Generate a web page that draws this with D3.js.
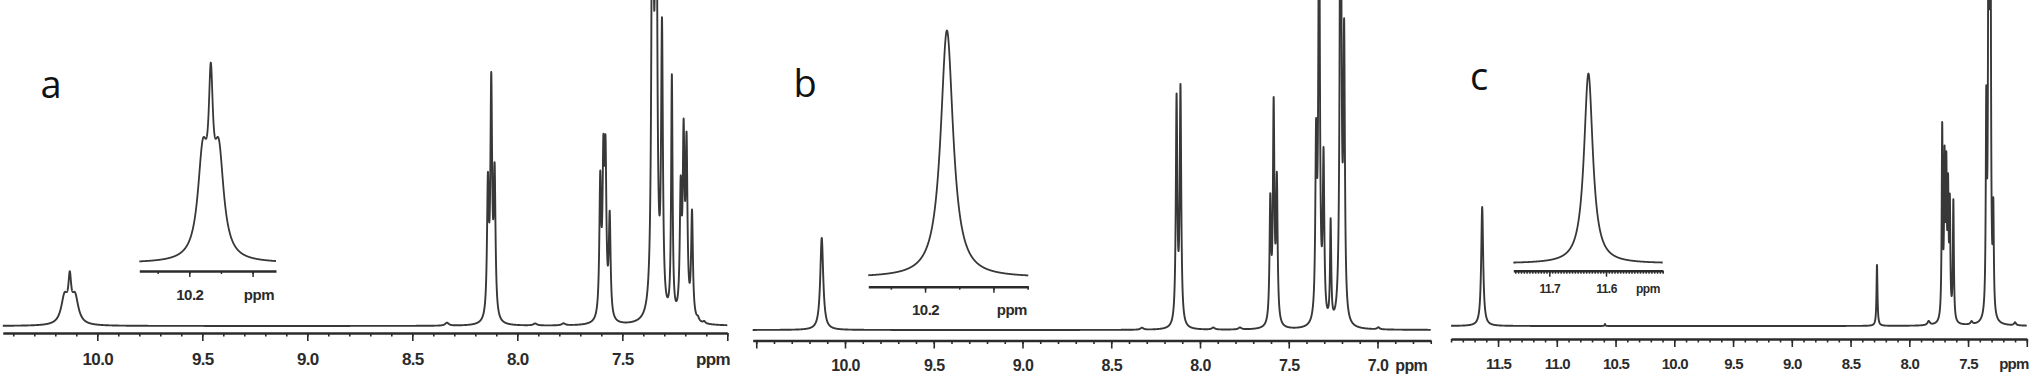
<!DOCTYPE html>
<html><head><meta charset="utf-8">
<script src="https://cdn.jsdelivr.net/npm/d3@7"></script>
<style>body{margin:0;background:#fff}</style>
</head><body>
<svg id="chart" width="2032" height="381"></svg>
<script>
// ---------------- DATA (ppm, intensity a.u., half-width ppm) ----------------
// Panel a
const aDomain = [10.45, 7.0];
const aMajorTicks = [10.0, 9.5, 9.0, 8.5, 8.0, 7.5, 7.0];
const aTickLabels = ["10.0", "9.5", "9.0", "8.5", "8.0", "7.5", ""];
const aPeaks = [
  [10.156, 27, 0.019], [10.131, 35, 0.008], [10.106, 27, 0.019],
  [8.335, 3, 0.010],
  [8.140, 130, 0.005], [8.124, 230, 0.005], [8.108, 140, 0.005],
  [7.915, 2, 0.010], [7.780, 2, 0.010],
  [7.605, 133, 0.005], [7.590, 145, 0.005], [7.580, 150, 0.005], [7.560, 100, 0.005],
  [7.356, 600, 0.005], [7.339, 600, 0.005], [7.311, 280, 0.005],
  [7.264, 240, 0.004],
  [7.222, 120, 0.005], [7.208, 170, 0.005], [7.194, 165, 0.005], [7.168, 105, 0.005],
  [7.140, 3, 0.006], [7.110, 2, 0.006]
];
const aInsetDomain = [10.279, 10.063];
const aInsetMajor = [10.2, 10.1];
const aInsetLabels = ["10.2", ""];
const aInsetPeaks = [[10.1786, 100, 0.0095], [10.166, 128, 0.004], [10.1534, 100, 0.0095]];

// Panel b
const bDomain = [10.52, 6.70];
const bMajorTicks = [10.5, 10.0, 9.5, 9.0, 8.5, 8.0, 7.5, 7.0];
const bTickLabels = ["", "10.0", "9.5", "9.0", "8.5", "8.0", "7.5", "7.0"];
const bPeaks = [
  [10.131, 92, 0.010],
  [8.327, 2, 0.010],
  [8.132, 225, 0.005], [8.110, 235, 0.005],
  [7.925, 2, 0.010], [7.775, 2, 0.010],
  [7.604, 120, 0.005], [7.585, 215, 0.005], [7.567, 140, 0.005],
  [7.346, 172, 0.005], [7.329, 450, 0.005], [7.304, 160, 0.005],
  [7.264, 100, 0.004],
  [7.208, 600, 0.005], [7.188, 275, 0.005],
  [6.995, 2, 0.008]
];
const bInsetDomain = [10.283, 10.049];
const bInsetMajor = [10.2, 10.1];
const bInsetLabels = ["10.2", ""];
const bInsetPeaks = [[10.168, 247, 0.011]];

// Panel c
const cDomain = [11.9, 7.0];
const cMajorTicks = [11.5, 11.0, 10.5, 10.0, 9.5, 9.0, 8.5, 8.0, 7.5, 7.0];
const cTickLabels = ["11.5", "11.0", "10.5", "10.0", "9.5", "9.0", "8.5", "8.0", "7.5", ""];
const cPeaks = [
  [11.635, 119, 0.010],
  [10.590, 2, 0.004],
  [8.275, 61, 0.005],
  [7.835, 4, 0.012],
  [7.720, 190, 0.005], [7.700, 150, 0.005], [7.685, 140, 0.005], [7.670, 120, 0.005],
  [7.655, 110, 0.005], [7.625, 120, 0.005],
  [7.470, 3, 0.010],
  [7.345, 200, 0.005], [7.325, 500, 0.005], [7.310, 500, 0.005], [7.285, 100, 0.005],
  [7.100, 3, 0.010]
];
const cInsetDomain = [11.7635, 11.5];
const cInsetMajor = [11.7, 11.6];
const cInsetLabels = ["11.7", "11.6"];
const cInsetPeaks = [[11.631, 190, 0.0094]];

const panelLetters = ["a", "b", "c"];

// ---------------- DRAWING ----------------
const svg = d3.select("#chart");
const ink = "#2b2b2b";
const lineInk = "#383838";

function lorentzSum(peaks, p) {
  let s = 0;
  for (const [c, h, w] of peaks) s += h * w * w / ((p - c) * (p - c) + w * w);
  return s;
}
function spectrumPoints(peaks, domain, step) {
  const pts = [];
  for (let p = domain[0]; p >= domain[1] - 1e-9; p -= step) pts.push([p, lorentzSum(peaks, p)]);
  return pts;
}

function drawSpectrum(peaks, x, y, step, width) {
  const pts = spectrumPoints(peaks, x.domain(), step);
  svg.append("path")
    .attr("d", d3.line().x(d => x(d[0])).y(d => y(d[1]))(pts))
    .attr("fill", "none").attr("stroke", lineInk)
    .attr("stroke-width", width).attr("stroke-linejoin", "round");
}

function drawAxis(x, yAxis, major, labels, minorStep, opts) {
  const g = svg.append("g").attr("transform", `translate(0,${yAxis})`);
  const [d0, d1] = x.domain();
  const minor = [];
  for (let v = Math.floor(d0 / minorStep) * minorStep; v >= d1 - 1e-9; v -= minorStep) {
    const r = Math.round(v * 10000) / 10000;
    if (r <= d0 + 1e-9) minor.push(r);
  }
  g.append("g").call(d3.axisBottom(x).tickValues(minor).tickSize(opts.minorLen).tickFormat("").tickSizeOuter(0))
    .call(s => s.select(".domain").remove())
    .selectAll("line").attr("stroke", ink).attr("stroke-width", opts.tickW);
  const ax = d3.axisBottom(x).tickValues(major).tickSize(opts.majorLen).tickSizeOuter(0)
    .tickPadding(opts.pad).tickFormat((d, i) => labels[i]);
  const a = g.append("g").call(ax);
  a.select(".domain").attr("stroke", ink).attr("stroke-width", opts.axisW);
  a.selectAll(".tick line").attr("stroke", ink).attr("stroke-width", opts.tickW);
  a.selectAll(".tick text").attr("fill", ink)
    .style("font-family", "'Liberation Sans', Arial, sans-serif")
    .style("font-weight", "bold").style("font-size", opts.font + "px")
    .style("letter-spacing", opts.ls + "px");
  if (opts.ppm !== undefined) {
    g.append("text").attr("x", x(opts.ppm)).attr("y", opts.majorLen + opts.pad).attr("dy", "0.71em")
      .attr("text-anchor", "middle").attr("fill", ink)
      .style("font-family", "'Liberation Sans', Arial, sans-serif")
      .style("font-weight", "bold").style("font-size", opts.font + "px")
      .style("letter-spacing", opts.ls + "px").text("ppm");
  }
}

const panels = [
  {peaks: aPeaks, domain: aDomain, range: [2.8, 727.3], base: 326, axisY: 333, major: aMajorTicks, labels: aTickLabels,
   font: 17, ls: -0.6, pad: 12, ppm: 7.068,
   inset: {peaks: aInsetPeaks, domain: aInsetDomain, range: [139.3, 276], base: 263, axisY: 271, major: aInsetMajor,
           minor: 0.05, labels: aInsetLabels, font: 15, ppm: 10.090, pad: 12},
   letter: [51, 98]},
  {peaks: bPeaks, domain: bDomain, range: [752.7, 1430.75], base: 330, axisY: 340.5, major: bMajorTicks, labels: bTickLabels,
   font: 16, ls: -0.6, pad: 11, ppm: 6.81,
   inset: {peaks: bInsetPeaks, domain: bInsetDomain, range: [868.3, 1028.3], base: 277.5, axisY: 286.7, major: bInsetMajor,
           minor: 0.05, labels: bInsetLabels, font: 15, ppm: 10.073, pad: 12},
   letter: [805, 97]},
  {peaks: cPeaks, domain: cDomain, range: [1451.05, 2026.8], base: 326, axisY: 339, major: cMajorTicks, labels: cTickLabels,
   font: 15, ls: -0.8, pad: 11, ppm: 7.11,
   inset: {peaks: cInsetPeaks, domain: cInsetDomain, range: [1513.3, 1662.7], base: 263.5, axisY: 270.7, major: cInsetMajor,
           minor: 0.005, labels: cInsetLabels, font: 12, ppm: 11.526, pad: 8},
   letter: [1479, 90]}
];

panels.forEach((P, i) => {
  const x = d3.scaleLinear().domain(P.domain).range(P.range);
  const y = d3.scaleLinear().domain([0, 330]).range([P.base, P.base - 330]);
  drawSpectrum(P.peaks, x, y, 0.0004, 1.9);
  drawAxis(x, P.axisY, P.major, P.labels, 0.1,
    {minorLen: 3.5, majorLen: 8, tickW: 1.6, axisW: 2.6, font: P.font, ls: P.ls, pad: P.pad, ppm: P.ppm});

  const I = P.inset;
  const xi = d3.scaleLinear().domain(I.domain).range(I.range);
  const yi = d3.scaleLinear().domain([0, 330]).range([I.base, I.base - 330]);
  drawSpectrum(I.peaks, xi, yi, 0.0002, 1.8);
  drawAxis(xi, I.axisY, I.major, I.labels, I.minor,
    {minorLen: 3, majorLen: 6, tickW: 1.5, axisW: 2.4, font: I.font, ls: -0.5, pad: I.pad, ppm: I.ppm});

  svg.append("text").attr("x", P.letter[0]).attr("y", P.letter[1])
    .attr("text-anchor", "middle").attr("fill", "#111")
    .style("font-family", "'Open Sans', 'Noto Sans', sans-serif").style("font-size", "38px")
    .text(panelLetters[i]);
});
</script>
</body></html>
